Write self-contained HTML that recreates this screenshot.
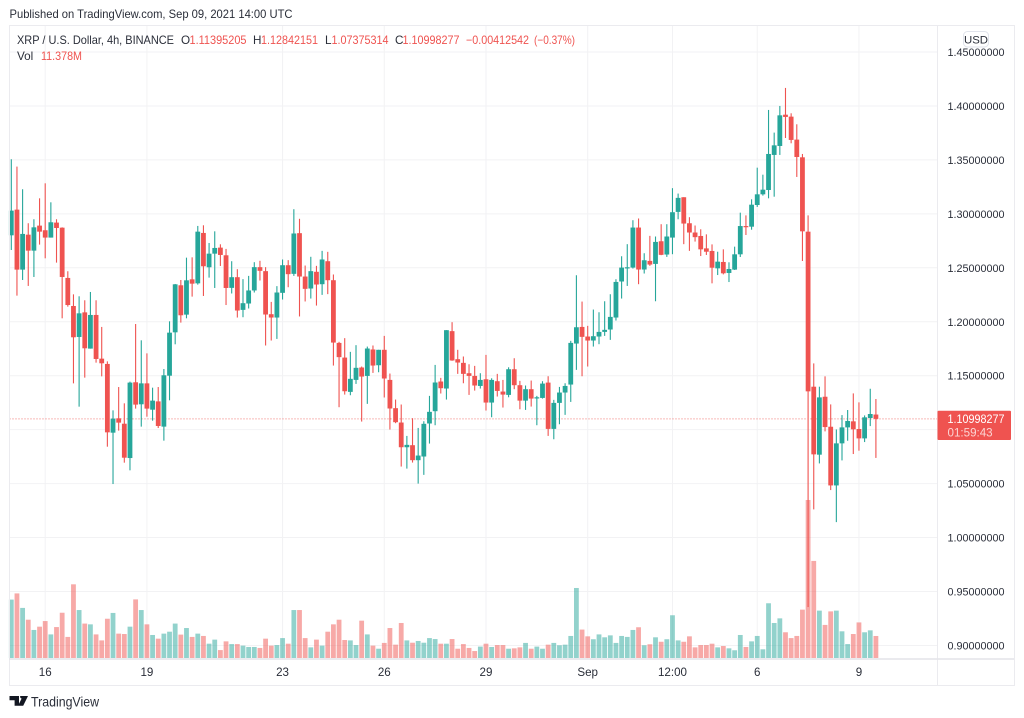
<!DOCTYPE html>
<html lang="en">
<head>
<meta charset="utf-8">
<title>XRP / U.S. Dollar 4h chart</title>
<style>
html,body{margin:0;padding:0;background:#fff;}
svg{display:block;font-family:"Liberation Sans",sans-serif;}
</style>
</head>
<body>
<svg id="chart" xmlns="http://www.w3.org/2000/svg" width="1024" height="718" viewBox="0 0 1024 718">
  <rect x="0" y="0" width="1024" height="718" fill="#ffffff"/>
  <g id="grid"></g>
  <g id="volumes"></g>
  <line id="last-line" x1="9.5" x2="937.5" stroke="#ef5350" stroke-width="1" stroke-dasharray="1 2" opacity="0.8"/>
  <g id="candles"></g>
  <g fill="none" stroke="#ebebef" stroke-width="1">
    <rect x="9.5" y="25.5" width="1005" height="660"/>
    <line x1="937.5" y1="25" x2="937.5" y2="685"/>
    <line x1="9" y1="659" x2="1014" y2="659" stroke="#e4e4e8" stroke-width="1.5"/>
  </g>
  <g id="price-axis" font-size="11.4" fill="#2a2e39"></g>
  <g id="time-axis" font-size="11.6" fill="#2a2e39" text-anchor="middle"></g>
  <text x="9.5" y="18" font-size="12" fill="#2a2e39" textLength="283" lengthAdjust="spacingAndGlyphs">Published on TradingView.com, Sep 09, 2021 14:00 UTC</text>
  <g font-size="11.7">
    <text x="17" y="44" fill="#2a2e39" textLength="157" lengthAdjust="spacingAndGlyphs">XRP / U.S. Dollar, 4h, BINANCE</text>
    <text x="181" y="44" fill="#2a2e39">O</text>
    <text x="189.5" y="44" fill="#ef5350" textLength="57" lengthAdjust="spacingAndGlyphs">1.11395205</text>
    <text x="253" y="44" fill="#2a2e39">H</text>
    <text x="261" y="44" fill="#ef5350" textLength="57" lengthAdjust="spacingAndGlyphs">1.12842151</text>
    <text x="325" y="44" fill="#2a2e39">L</text>
    <text x="331.5" y="44" fill="#ef5350" textLength="57" lengthAdjust="spacingAndGlyphs">1.07375314</text>
    <text x="395" y="44" fill="#2a2e39">C</text>
    <text x="402.5" y="44" fill="#ef5350" textLength="57" lengthAdjust="spacingAndGlyphs">1.10998277</text>
    <text x="466" y="44" fill="#ef5350" textLength="63" lengthAdjust="spacingAndGlyphs">−0.00412542</text>
    <text x="534" y="44" fill="#ef5350" textLength="41" lengthAdjust="spacingAndGlyphs">(−0.37%)</text>
    <text x="17" y="60" fill="#2a2e39">Vol</text>
    <text x="41" y="60" fill="#ef5350" textLength="41" lengthAdjust="spacingAndGlyphs">11.378M</text>
  </g>
  <g>
    <rect x="963.5" y="31.5" width="25" height="15.5" rx="4" fill="#ffffff" stroke="#e0e3eb"/>
    <text x="976" y="43.5" font-size="11.4" fill="#2a2e39" text-anchor="middle">USD</text>
  </g>
  <g>
    <rect x="937.5" y="410.7" width="73.5" height="29.3" rx="1" fill="#ef5350"/>
    <text x="947.5" y="423" font-size="11.6" fill="#ffffff" textLength="57" lengthAdjust="spacingAndGlyphs">1.10998277</text>
    <text x="947.5" y="436.5" font-size="11.6" fill="#ffffff" fill-opacity="0.75">01:59:43</text>
  </g>
  <g>
    <path d="M9.5 696h9.5v9.8h-4.4v-5.6h-5.1zM20.2 696h7.8l-4.8 9.8h-5.2l3.6-7.2a2.2 2.2 0 0 1-1.4-2.6z" fill="#131722"/>
    <text x="31" y="706.5" font-size="14" fill="#2a2e39" textLength="68" lengthAdjust="spacingAndGlyphs">TradingView</text>
  </g>
</svg>
<script>
const opens=[1.2801,1.3039,1.2483,1.2807,1.2659,1.2891,1.2848,1.2780,1.2919,1.2872,1.2406,1.2146,1.1859,1.2087,1.1751,1.2063,1.1658,1.1609,1.0972,1.1105,1.1055,1.0737,1.1439,1.1235,1.1429,1.1185,1.1262,1.1028,1.1500,1.1902,1.2338,1.2066,1.2393,1.2356,1.2823,1.2505,1.2631,1.2687,1.2616,1.2314,1.2413,1.2110,1.2169,1.2290,1.2506,1.2469,1.2070,1.2039,1.2268,1.2524,1.2444,1.2821,1.2419,1.2308,1.2463,1.2348,1.2561,1.2385,1.1804,1.1668,1.1350,1.1461,1.1576,1.1498,1.1743,1.1597,1.1740,1.1461,1.1199,1.1066,1.0837,1.0856,1.0717,1.0751,1.1057,1.1171,1.1446,1.1381,1.1913,1.1653,1.1619,1.1523,1.1498,1.1405,1.1467,1.1251,1.1449,1.1353,1.1322,1.1560,1.1412,1.1269,1.1375,1.1291,1.1294,1.1436,1.1007,1.1248,1.1344,1.1418,1.1798,1.1952,1.1863,1.1826,1.1863,1.1906,1.1928,1.2039,1.2373,1.2502,1.2502,1.2873,1.2484,1.2564,1.2536,1.2746,1.2623,1.2780,1.3018,1.3154,1.2913,1.2827,1.2795,1.2680,1.2656,1.2495,1.2554,1.2452,1.2483,1.2625,1.2887,1.2881,1.3082,1.3181,1.3221,1.3546,1.3629,1.3919,1.3901,1.3688,1.3524,1.2835,1.1398,1.0768,1.1305,1.1027,1.0483,1.0873,1.1021,1.1077,1.1006,1.0919,1.1108,1.1140];
const highs=[1.3506,1.3438,1.3228,1.2913,1.2950,1.3144,1.3283,1.3107,1.2950,1.2875,1.2468,1.2254,1.2236,1.2199,1.2276,1.2199,1.1952,1.1633,1.1179,1.1395,1.1244,1.1445,1.1979,1.1828,1.1707,1.1389,1.1395,1.1562,1.2004,1.2350,1.2387,1.2594,1.2597,1.2888,1.2894,1.2730,1.2838,1.2718,1.2675,1.2561,1.2487,1.2395,1.2425,1.2552,1.2565,1.2506,1.2184,1.2330,1.2577,1.2571,1.3043,1.2954,1.2521,1.2602,1.2518,1.2657,1.2648,1.2438,1.1814,1.1848,1.1721,1.1783,1.1585,1.1770,1.1780,1.1740,1.1869,1.1520,1.1279,1.1233,1.0942,1.1106,1.1016,1.1078,1.1313,1.1600,1.1480,1.1922,1.1996,1.1740,1.1678,1.1606,1.1591,1.1523,1.1693,1.1476,1.1517,1.1461,1.1578,1.1662,1.1452,1.1409,1.1455,1.1313,1.1449,1.1495,1.1276,1.1396,1.1430,1.1823,1.2431,1.2187,1.1962,1.2113,1.2088,1.2190,1.2255,1.2394,1.2607,1.2719,1.2941,1.2957,1.2635,1.2796,1.2790,1.2904,1.2904,1.3238,1.3188,1.3154,1.2969,1.2892,1.2857,1.2810,1.2717,1.2649,1.2671,1.2551,1.2696,1.3011,1.2986,1.3135,1.3428,1.3363,1.3963,1.3753,1.4000,1.4167,1.3932,1.3830,1.3555,1.2986,1.1614,1.1398,1.1494,1.1234,1.1002,1.1135,1.1182,1.1336,1.1253,1.1132,1.1379,1.1284];
const lows=[1.2665,1.2242,1.2387,1.2332,1.2415,1.2715,1.2588,1.2780,1.2548,1.2032,1.2140,1.1429,1.1213,1.1482,1.1751,1.1621,1.1494,1.0842,1.0496,1.0991,1.0694,1.0623,1.1195,1.1028,1.1120,1.1083,1.1015,1.0898,1.1272,1.1791,1.1992,1.2032,1.2233,1.2344,1.2239,1.2409,1.2313,1.2517,1.2155,1.2262,1.2039,1.2042,1.2123,1.2271,1.2382,1.1780,1.1826,1.1841,1.2206,1.2320,1.2425,1.2049,1.2188,1.2215,1.2150,1.2249,1.2256,1.1594,1.1208,1.1325,1.1319,1.1424,1.1075,1.1239,1.1526,1.1532,1.1298,1.1001,1.1060,1.0658,1.0639,1.0695,1.0500,1.0581,1.0871,1.1041,1.1335,1.1279,1.1638,1.1517,1.1430,1.1322,1.1362,1.1381,1.1177,1.1115,1.1307,1.1205,1.1300,1.1375,1.1189,1.1183,1.1214,1.1041,1.1288,1.0942,1.0911,1.1050,1.1137,1.1257,1.1554,1.1495,1.1585,1.1770,1.1792,1.1869,1.1832,1.2011,1.2215,1.2332,1.2493,1.2348,1.2447,1.2518,1.2190,1.2617,1.2601,1.2626,1.2950,1.2719,1.2657,1.2743,1.2609,1.2619,1.2356,1.2433,1.2439,1.2368,1.2480,1.2600,1.2804,1.2853,1.3064,1.3169,1.3144,1.3159,1.3546,1.3703,1.3654,1.3342,1.2563,0.9356,1.0261,1.0687,1.0984,1.0440,1.0143,1.0715,1.0897,1.0774,1.0805,1.0885,1.1033,1.0738];
const closes=[1.3030,1.2483,1.2814,1.2659,1.2875,1.2835,1.2780,1.2922,1.2869,1.2415,1.2155,1.1856,1.2078,1.1754,1.2063,1.1655,1.1615,1.0975,1.1102,1.1065,1.0740,1.1436,1.1232,1.1429,1.1195,1.1269,1.1034,1.1504,1.1899,1.2347,1.2060,1.2384,1.2353,1.2835,1.2514,1.2631,1.2684,1.2619,1.2313,1.2413,1.2104,1.2172,1.2290,1.2506,1.2472,1.2067,1.2039,1.2271,1.2524,1.2441,1.2818,1.2419,1.2305,1.2469,1.2345,1.2577,1.2385,1.1807,1.1672,1.1356,1.1471,1.1573,1.1492,1.1752,1.1594,1.1740,1.1474,1.1196,1.1069,1.0837,1.0859,1.0717,1.0760,1.1054,1.1165,1.1437,1.1384,1.1922,1.1641,1.1622,1.1517,1.1498,1.1409,1.1461,1.1251,1.1461,1.1359,1.1325,1.1560,1.1412,1.1269,1.1375,1.1288,1.1300,1.1427,1.1007,1.1248,1.1344,1.1405,1.1804,1.1949,1.1860,1.1826,1.1866,1.1906,1.1925,1.2045,1.2369,1.2502,1.2505,1.2873,1.2484,1.2570,1.2530,1.2740,1.2620,1.2790,1.3015,1.3148,1.2910,1.2827,1.2784,1.2671,1.2649,1.2501,1.2557,1.2449,1.2489,1.2625,1.2887,1.2878,1.3085,1.3181,1.3224,1.3555,1.3635,1.3913,1.3898,1.3685,1.3527,1.2838,1.1355,1.0771,1.1299,1.1024,1.0483,1.0873,1.1021,1.1080,1.1003,1.0919,1.1114,1.1145,1.1100];
const volumes=[30.2,33.4,25.9,19.8,14.5,16.2,19.1,12.2,16.0,23.4,10.9,38.1,24.8,17.8,17.4,12.2,9.1,20.3,23.3,12.6,12.4,16.2,30.3,24.8,17.4,11.9,10.0,12.6,13.6,17.8,12.1,15.5,10.9,12.6,11.4,7.4,9.5,4.1,8.6,7.2,7.2,6.4,5.7,5.7,5.2,10.0,6.4,6.7,10.3,7.4,24.8,24.8,10.3,5.5,9.5,6.4,13.6,17.4,19.8,9.3,9.1,6.7,19.3,12.2,6.4,4.8,7.8,15.5,6.9,18.1,9.1,7.9,8.8,7.9,10.3,9.8,7.4,7.4,9.8,4.8,7.2,5.2,3.6,5.9,7.4,5.7,6.7,6.7,4.8,5.0,5.5,7.8,4.8,5.9,4.8,6.9,7.8,6.6,6.9,11.4,36.2,14.7,11.2,9.7,12.2,10.7,11.7,7.8,11.4,10.9,14.5,15.9,6.6,7.1,10.7,8.4,9.7,22.1,9.1,8.4,11.2,5.5,6.7,6.7,7.4,5.5,6.2,5.0,4.0,11.9,5.7,8.6,11.4,4.5,28.3,18.1,20.5,13.3,10.3,11.4,25.0,81.7,50.2,24.5,17.1,24.1,24.5,13.8,7.2,12.4,18.4,13.3,14.3,11.378];
const priceTicks=[1.45,1.40,1.35,1.30,1.25,1.20,1.15,1.10,1.05,1.00,0.95,0.90];
const timeTickLabels=["16","19","23","26","29","Sep","12:00","6","9"];
const timeTickBars=[6,24,48,66,84,102,117,132,150];
const lastPrice=1.10998277;

const SVGNS='http://www.w3.org/2000/svg';
const UP='#26a69a',DOWN='#ef5350';
function xAt(i){return 11.3+5.651*i;}
function yAt(p){return 52+(1.45-p)*1079;}
function vAt(v){return 658-v*1.934;}
function mk(tag,attrs,parent){
  const e=document.createElementNS(SVGNS,tag);
  for(const k in attrs){e.setAttribute(k,attrs[k]);}
  parent.appendChild(e);
  return e;
}
const gGrid=document.getElementById('grid');
const gVol=document.getElementById('volumes');
const gCandles=document.getElementById('candles');
const gPrice=document.getElementById('price-axis');
const gTime=document.getElementById('time-axis');

priceTicks.forEach(function(p){
  const y=yAt(p);
  const line=mk('line',{x1:9.5,x2:937.5,y1:y,y2:y,stroke:'#f2f2f4','stroke-width':1},gGrid);
  
  
  const t=mk('text',{x:947.5,y:y+4},gPrice);
  
  
  t.setAttribute('textLength','57');
  t.setAttribute('lengthAdjust','spacingAndGlyphs');
  t.textContent=p.toFixed(8);
});
timeTickBars.forEach(function(b,k){
  const x=xAt(b);
  const line=mk('line',{x1:x,x2:x,y1:25,y2:659,stroke:'#f2f2f4','stroke-width':1},gGrid);
  
  
  const t=mk('text',{x:x,y:676},gTime);
  
  
  t.textContent=timeTickLabels[k];
});
volumes.forEach(function(v,i){
  const up=closes[i]>=opens[i];
  const r=mk('rect',{x:xAt(i)-2.4,y:vAt(v),width:4.8,height:658-vAt(v),fill:up?UP:DOWN,'fill-opacity':0.5},gVol);
  
  
});
opens.forEach(function(o,i){
  const c=closes[i],up=c>=o,col=up?UP:DOWN,x=xAt(i);
  const top=yAt(Math.max(o,c)),bot=yAt(Math.min(o,c));
  const g=mk('g',{},gCandles);
  
  
  const w=mk('rect',{x:x-0.55,y:yAt(highs[i]),width:1.1,height:yAt(lows[i])-yAt(highs[i]),fill:col},g);
  
  
  const b=mk('rect',{x:x-2.4,y:top,width:4.8,height:Math.max(bot-top,1.2),fill:col},g);
  
  
});
const lastLine=document.getElementById('last-line');
lastLine.setAttribute('y1',yAt(lastPrice));
lastLine.setAttribute('y2',yAt(lastPrice));
</script>
</body>
</html>
